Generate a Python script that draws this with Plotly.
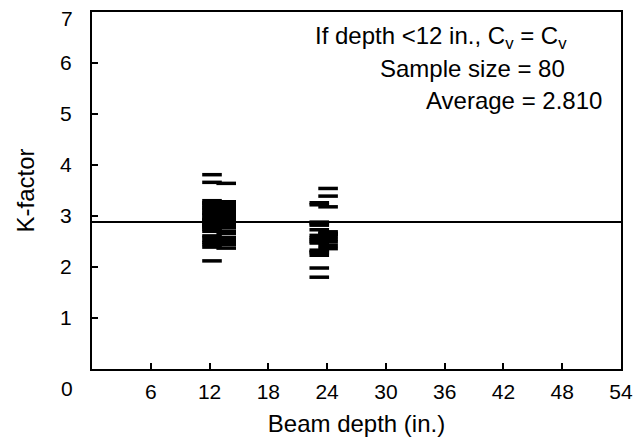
import plotly.graph_objects as go

# ---- data ----
X_12_LEFT = 12.25
X_12_RIGHT = 13.7
X_24_LEFT = 23.2
X_24_RIGHT = 24.1

k_12_left = [3.81, 3.66, 3.30, 3.26, 3.24, 3.21, 3.17, 3.14, 3.11, 3.06, 3.04,
             3.01, 2.96, 2.94, 2.92, 2.90, 2.87, 2.84, 2.82, 2.80, 2.77, 2.74,
             2.70, 2.61, 2.58, 2.52, 2.48, 2.44, 2.39, 2.12]
k_12_right = [3.64, 3.28, 3.25, 3.22, 3.17, 3.14, 3.11, 3.08, 3.04, 3.00, 2.96,
              2.91, 2.87, 2.83, 2.77, 2.70, 2.66, 2.58, 2.54, 2.49, 2.44, 2.37]
k_24_left = [3.26, 3.22, 2.88, 2.85, 2.82, 2.73, 2.62, 2.57, 2.54, 2.50, 2.47,
             2.33, 2.30, 2.28, 2.23, 1.98, 1.80]
k_24_right = [3.54, 3.39, 3.18, 2.69, 2.66, 2.64, 2.60, 2.54, 2.49, 2.42, 2.36]

AVERAGE_LINE = 2.88
X_RANGE = [0, 54]
Y_RANGE = [0, 7]
x_ticks = [6, 12, 18, 24, 30, 36, 42, 48, 54]
y_ticks = [1, 2, 3, 4, 5, 6, 7]

FONT = "Liberation Sans, Arial, sans-serif"

xs = ([X_12_LEFT] * len(k_12_left) + [X_12_RIGHT] * len(k_12_right) +
      [X_24_LEFT] * len(k_24_left) + [X_24_RIGHT] * len(k_24_right))
ys = k_12_left + k_12_right + k_24_left + k_24_right

fig = go.Figure()
fig.add_trace(go.Scatter(
    x=X_RANGE, y=[AVERAGE_LINE, AVERAGE_LINE], mode="lines",
    line=dict(color="black", width=2), hoverinfo="skip", showlegend=False))
fig.add_trace(go.Scatter(
    x=xs, y=ys, mode="markers",
    marker=dict(symbol="line-ew", size=14, color="black",
                line=dict(color="black", width=3.5)),
    showlegend=False))

# page body adds an 8px offset; figure sized to fit the 642x444 window
fig.update_layout(
    width=634, height=436,
    margin=dict(l=84, r=21, t=4, b=75, autoexpand=False),
    paper_bgcolor="white", plot_bgcolor="white",
    font=dict(family=FONT, size=21, color="black"),
    showlegend=False,
)
fig.update_xaxes(
    range=X_RANGE, tickvals=x_ticks, ticktext=[str(v) for v in x_ticks],
    showgrid=False, zeroline=False, automargin=False,
    showline=True, linecolor="black", linewidth=2, mirror=True,
    ticks="inside", ticklen=6, tickwidth=2, tickcolor="black",
    ticklabelstandoff=3, ticklabeloverflow="allow",
    title=dict(text="Beam depth (in.)", standoff=13, font=dict(size=24)),
)
# top label (7) is drawn as an annotation so that it sits just under the frame
y_text = [str(v) for v in y_ticks[:-1]] + [""]
fig.update_yaxes(
    range=Y_RANGE, tickvals=y_ticks, ticktext=y_text,
    showgrid=False, zeroline=False, automargin=False,
    showline=True, linecolor="black", linewidth=2, mirror=True,
    ticks="inside", ticklen=6, tickwidth=2, tickcolor="black",
    ticklabelstandoff=14, ticklabeloverflow="allow",
    title=dict(text="K-factor", standoff=19, font=dict(size=24)),
)

fig.add_annotation(x=X_RANGE[0], y=Y_RANGE[1], xref="x", yref="y", text=str(y_ticks[-1]),
                   showarrow=False, xshift=-25, yshift=-6, font=dict(size=21))
# corner "0" label
fig.add_annotation(x=X_RANGE[0], y=Y_RANGE[0], xref="x", yref="y", text="0", showarrow=False,
                   xshift=-25, yshift=-19, font=dict(size=21))

def px_to_paper_x(px):
    return (px - 92) / 529.0

def px_to_paper_y(py):
    return (369 - py) / 357.0

fig.add_annotation(x=px_to_paper_x(569), y=px_to_paper_y(38), xref="paper", yref="paper",
                   text="If depth &lt;12 in., C<sub>v</sub> = C<sub>v</sub>",
                   showarrow=False, xanchor="right", yanchor="middle", font=dict(size=24))
fig.add_annotation(x=px_to_paper_x(567), y=px_to_paper_y(69), xref="paper", yref="paper",
                   text="Sample size = 80",
                   showarrow=False, xanchor="right", yanchor="middle", font=dict(size=24))
fig.add_annotation(x=px_to_paper_x(604), y=px_to_paper_y(100), xref="paper", yref="paper",
                   text="Average = 2.810",
                   showarrow=False, xanchor="right", yanchor="middle", font=dict(size=24))

fig.write_html("out.html")
